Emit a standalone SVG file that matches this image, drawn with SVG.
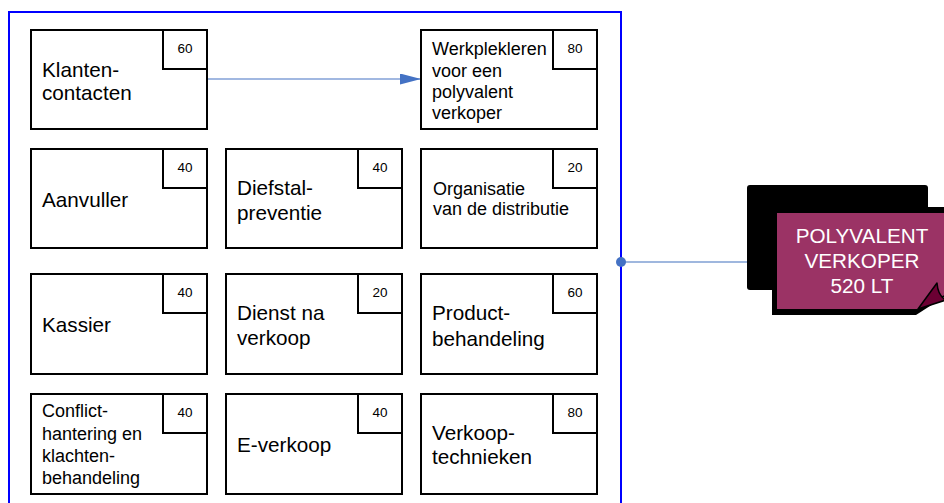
<svg xmlns="http://www.w3.org/2000/svg" width="944" height="503" viewBox="0 0 944 503">
<defs>
<style>
.box{fill:#fff;stroke:#000;stroke-width:2}
.nb{fill:#fff;stroke:#000;stroke-width:2}
.t{font-family:"Liberation Sans",Arial,sans-serif;font-size:20.7px;fill:#000}
.s{font-family:"Liberation Sans",Arial,sans-serif;font-size:18px;fill:#000}
.n{font-family:"Liberation Sans",Arial,sans-serif;font-size:13.5px;fill:#000;text-anchor:middle}
.w{font-family:"Liberation Sans",Arial,sans-serif;font-size:20.7px;fill:#fff;text-anchor:middle}
</style>
<marker id="ah" viewBox="0 0 21 11" refX="21" refY="5.5" markerWidth="21" markerHeight="11" markerUnits="userSpaceOnUse" orient="auto">
<path d="M0,0 L21,5.5 L0,11 Z" fill="#4472C4"/>
</marker>
</defs>
<rect width="944" height="503" fill="#fff"/>
<g id="frame">
<rect x="9" y="12" width="612" height="520" fill="none" stroke="#0000FF" stroke-width="2"/>
</g>
<g id="connectors">
<line x1="207" y1="79" x2="421" y2="79" stroke="#4472C4" stroke-width="1.2" marker-end="url(#ah)"/>
<line x1="621" y1="262" x2="748" y2="262" stroke="#7F9FD3" stroke-width="1.5"/>
<circle cx="621" cy="262" r="5" fill="#4472C4"/>
</g>
<g id="klantencontacten">
<rect class="box" x="31" y="30" width="176" height="99"/>
<rect class="nb" x="163" y="30" width="44" height="39"/>
<text class="n" x="185" y="53">60</text>
<text class="t" x="42" y="77">Klanten-</text>
<text class="t" x="42" y="100">contacten</text>
</g>
<g id="werkplekleren">
<rect class="box" x="421" y="30" width="176" height="99"/>
<rect class="nb" x="553" y="30" width="44" height="39"/>
<text class="n" x="575" y="53">80</text>
<text class="s" x="432" y="55">Werkplekleren</text>
<text class="s" x="432" y="76.5">voor een</text>
<text class="s" x="432" y="98">polyvalent</text>
<text class="s" x="432" y="119">verkoper</text>
</g>
<g id="aanvuller">
<rect class="box" x="31" y="149" width="176" height="99"/>
<rect class="nb" x="163" y="149" width="44" height="39"/>
<text class="n" x="185" y="172">40</text>
<text class="t" x="42" y="207">Aanvuller</text>
</g>
<g id="diefstalpreventie">
<rect class="box" x="226" y="149" width="176" height="99"/>
<rect class="nb" x="358" y="149" width="44" height="39"/>
<text class="n" x="380" y="172">40</text>
<text class="t" x="237" y="195">Diefstal-</text>
<text class="t" x="237" y="220">preventie</text>
</g>
<g id="organisatie">
<rect class="box" x="421" y="149" width="176" height="99"/>
<rect class="nb" x="553" y="149" width="44" height="39"/>
<text class="n" x="575" y="172">20</text>
<text class="s" x="433" y="195">Organisatie</text>
<text class="s" x="433" y="215">van de distributie</text>
</g>
<g id="kassier">
<rect class="box" x="31" y="274" width="176" height="100"/>
<rect class="nb" x="163" y="274" width="44" height="39"/>
<text class="n" x="185" y="297">40</text>
<text class="t" x="42" y="332">Kassier</text>
</g>
<g id="dienstnaverkoop">
<rect class="box" x="226" y="274" width="176" height="100"/>
<rect class="nb" x="358" y="274" width="44" height="39"/>
<text class="n" x="380" y="297">20</text>
<text class="t" x="237" y="320">Dienst na</text>
<text class="t" x="237" y="345">verkoop</text>
</g>
<g id="productbehandeling">
<rect class="box" x="421" y="274" width="176" height="100"/>
<rect class="nb" x="553" y="274" width="44" height="39"/>
<text class="n" x="575" y="297">60</text>
<text class="t" x="432" y="320">Product-</text>
<text class="t" x="432" y="346">behandeling</text>
</g>
<g id="conflicthantering">
<rect class="box" x="31" y="394" width="176" height="100"/>
<rect class="nb" x="163" y="394" width="44" height="39"/>
<text class="n" x="185" y="417">40</text>
<text class="s" x="42" y="417">Conflict-</text>
<text class="s" x="42" y="439.5">hantering en</text>
<text class="s" x="42" y="462">klachten-</text>
<text class="s" x="42" y="484">behandeling</text>
</g>
<g id="everkoop">
<rect class="box" x="226" y="394" width="176" height="100"/>
<rect class="nb" x="358" y="394" width="44" height="39"/>
<text class="n" x="380" y="417">40</text>
<text class="t" x="237" y="452">E-verkoop</text>
</g>
<g id="verkooptechnieken">
<rect class="box" x="421" y="394" width="176" height="100"/>
<rect class="nb" x="553" y="394" width="44" height="39"/>
<text class="n" x="575" y="417">80</text>
<text class="t" x="432" y="440">Verkoop-</text>
<text class="t" x="432" y="464">technieken</text>
</g>
<g id="polyvalentverkoper">
<rect x="747" y="185" width="181" height="105" rx="3" fill="#000"/>
<path d="M772,207 H950 V293 L916,315 H772 Z" fill="#000"/>
<path d="M777,213 H950 V292 L919,309 H777 Z" fill="#9B3365"/>
<path d="M918,309 L937,283 Q938,296 946,300 Z" fill="#6B0033" stroke="#000" stroke-width="1.5" stroke-linejoin="round"/>
<text class="w" x="862" y="243">POLYVALENT</text>
<text class="w" x="862" y="268">VERKOPER</text>
<text class="w" x="862" y="293">520 LT</text>
</g>
</svg>
